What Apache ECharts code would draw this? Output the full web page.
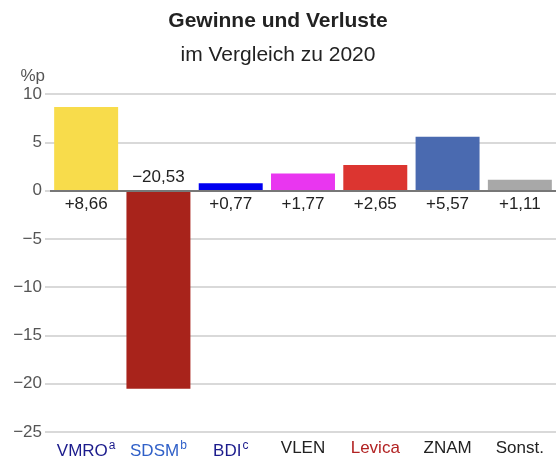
<!DOCTYPE html>
<html>
<head>
<meta charset="utf-8">
<script src="https://cdn.jsdelivr.net/npm/echarts@6/dist/echarts.min.js"></script>
<style>
  html, body { margin: 0; padding: 0; background: #fff; }
  #main { width: 556px; height: 462px; }
</style>
</head>
<body>
<div id="main"></div>
<script>
// ------------------------ 数据 -------------------
const parties = ['VMRO', 'SDSM', 'BDI', 'VLEN', 'Levica', 'ZNAM', 'Sonst.'];
const partySup = ['a', 'b', 'c', '', '', '', ''];
const changes = [8.66, -20.53, 0.77, 1.77, 2.65, 5.57, 1.11];
const changeLabels = ['+8,66', '\u221220,53', '+0,77', '+1,77', '+2,65', '+5,57', '+1,11'];
const barColors = ['#F8DC4B', '#A8231B', '#0000F0', '#E936F0', '#DC3530', '#4A6AB0', '#A8A8A8'];
const nameColors = ['#1B1B8C', '#3060C8', '#1B1B8C', '#222', '#B22222', '#222', '#222'];
const yTicks = [-25, -20, -15, -10, -5, 0, 5, 10];

// 横轴文字的 rich 样式（上标）
const rich = {};
parties.forEach((p, i) => {
  rich['n' + i] = { color: nameColors[i], fontSize: 17, fontFamily: 'Liberation Sans' };
  rich['s' + i] = { color: nameColors[i], fontSize: 12, fontFamily: 'Liberation Sans', padding: [0, 0, 10, 1] };
});

let myChart = echarts.init(document.querySelector('#main'));
let option = {
  animation: false,
  textStyle: { fontFamily: 'Liberation Sans' },
  title: {
    text: 'Gewinne und Verluste',
    subtext: 'im Vergleich zu 2020',
    left: 'center',
    top: 6,
    itemGap: 13,
    textStyle: { fontSize: 21, fontWeight: 'bold', color: '#222' },
    subtextStyle: { fontSize: 21, color: '#222' }
  },
  grid: { left: 50, right: 0, top: 94, bottom: 30 },
  xAxis: {
    type: 'category',
    data: parties,
    axisLine: { show: false, onZero: false },
    axisTick: { show: false },
    axisLabel: {
      margin: 8,
      interval: 0,
      formatter: (v, i) => '{n' + i + '|' + v + '}' + (partySup[i] ? '{s' + i + '|' + partySup[i] + '}' : ''),
      rich: rich
    }
  },
  yAxis: {
    type: 'value',
    min: yTicks[0],
    max: yTicks[yTicks.length - 1],
    interval: 5,
    name: '%p',
    nameLocation: 'end',
    nameGap: 9,
    nameTextStyle: { color: '#555', fontSize: 17, align: 'right', padding: [0, 5, 0, 0] },
    axisLine: { show: false },
    axisTick: { show: true, length: 5, lineStyle: { color: '#ccc', width: 1.5 } },
    axisLabel: {
      color: '#555',
      fontSize: 17,
      margin: 8,
      formatter: v => (v < 0 ? '\u2212' + Math.abs(v) : String(v))
    },
    splitLine: { lineStyle: { color: '#ccc', width: 1.5 } }
  },
  series: [{
    type: 'bar',
    barCategoryGap: '11.5%',
    data: changes.map((v, i) => ({
      value: v,
      itemStyle: { color: barColors[i] },
      label: {
        show: true,
        position: v >= 0 ? 'bottom' : 'top',
        distance: 5,
        formatter: changeLabels[i],
        color: '#222',
        fontSize: 17
      }
    })),
    markLine: {
      silent: true,
      symbol: 'none',
      label: { show: false },
      lineStyle: { color: '#777', width: 2, type: 'solid' },
      data: [{ yAxis: 0 }]
    }
  }]
};
myChart.setOption(option);
</script>
</body>
</html>
